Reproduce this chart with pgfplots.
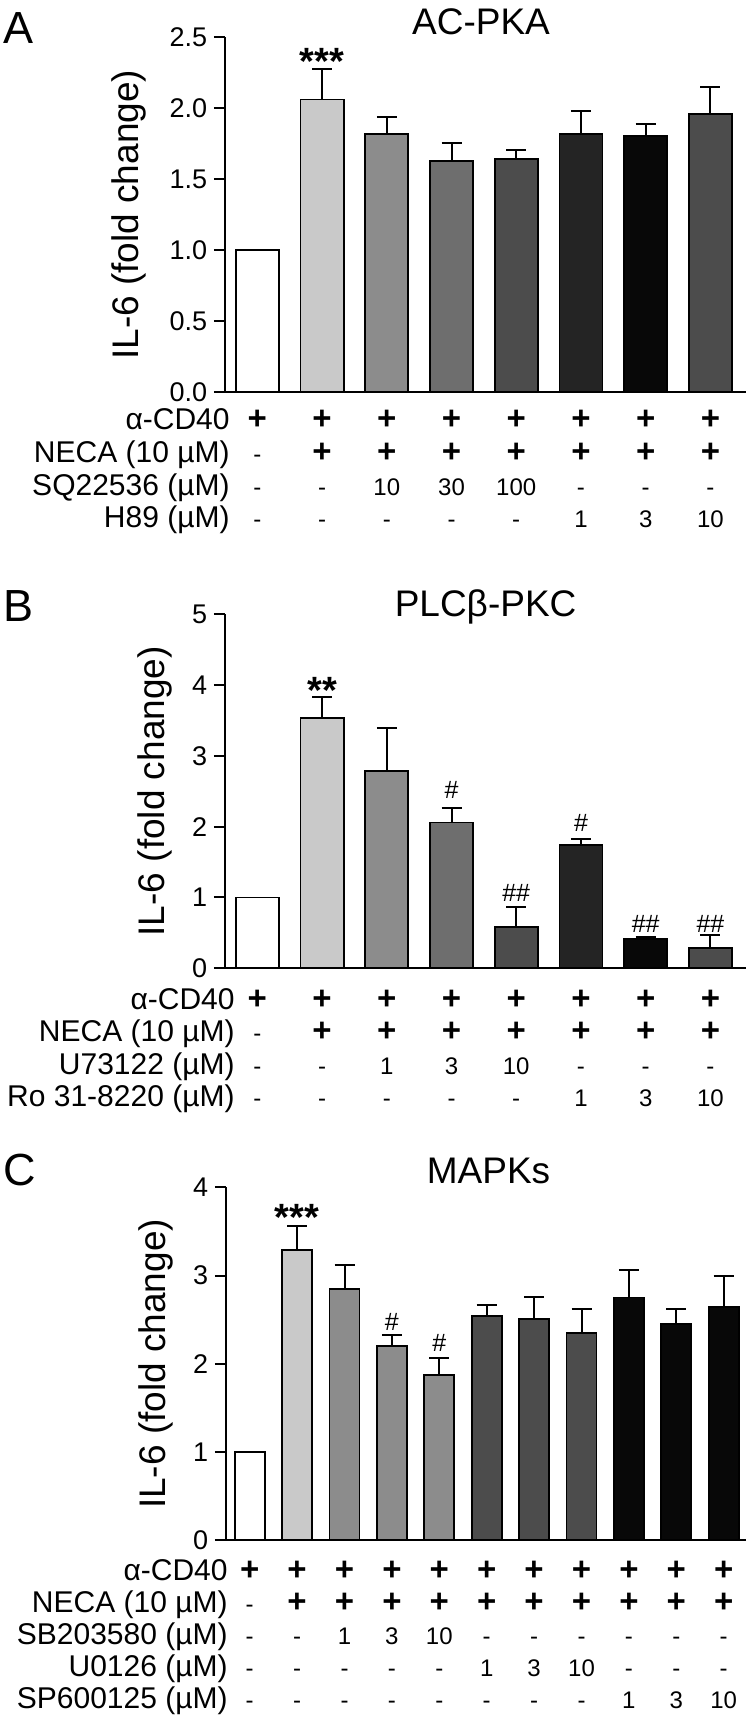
\documentclass[border=0pt]{standalone}
\usepackage{pgfplots}
\pgfplotsset{compat=1.18}
\usepackage{fontspec}
\setmainfont{Liberation Sans}

\definecolor{c1}{gray}{0.79}
\definecolor{c2}{gray}{0.55}
\definecolor{c3}{gray}{0.43}
\definecolor{c4}{gray}{0.30}
\definecolor{c5}{gray}{0.14}
\definecolor{c6}{gray}{0.03}

\newcommand{\PL}{{\fontsize{16.5bp}{16.3bp}\selectfont\bfseries +}}
\newcommand{\MI}{-}
\newcommand{\colA}[4]{\strut#1\\\strut#2\\\strut#3\\\strut#4}
\newcommand{\colC}[5]{\strut#1\\\strut#2\\\strut#3\\\strut#4\\\strut#5}

\tikzset{
  star/.style={font=\fontsize{19bp}{20bp}\selectfont\bfseries, anchor=center, yshift=-4bp},
  hash/.style={font=\fontsize{12.5bp}{14bp}\selectfont, anchor=center},
}
\pgfplotsset{
  panel/.style={
    scale only axis,
    axis lines*=left,
    axis line style={line width=1bp},
    ymin=0, clip=false,
    ybar, bar shift=0pt,
    xtick align=inside, major x tick style={draw=none},
    ytick align=outside, major tick length=5.5bp,
    major y tick style={line width=1bp, black},
    tick label style={font=\fontsize{13.5bp}{16bp}\selectfont},
    /pgf/number format/assume math mode=true,
    yticklabel style={inner sep=3.2bp},
    xticklabel style={align=center, anchor=north, inner sep=0pt},
    ylabel={IL-6 (fold change)},
    every axis y label/.style={at={(rel axis cs:0,0.5)}, xshift=-35bp, rotate=90, anchor=center,
      font=\fontsize{18.5bp}{20bp}\selectfont},
    every axis plot/.append style={draw=black, line width=0.9bp,
      error bars/y dir=plus, error bars/y explicit,
      error bars/error bar style={line width=1bp, black},
      error bars/error mark options={rotate=90, mark size=5bp, line width=1bp, black}},
  },
}

\begin{document}
\begin{tikzpicture}
\useasboundingbox (0,0) rectangle (373.5bp,859.5bp);

% ---------- A: AC-PKA ----------
\begin{axis}[panel,
  at={(112.5bp,663.35bp)}, anchor=south west,
  width=260.5bp, height=177.5bp,
  xmin=-0.5, xmax=7.55, ymax=2.5, bar width=0.665,
  ytick={0,0.5,...,2.5},
  yticklabel style={/pgf/number format/.cd, fixed, fixed zerofill, precision=1},
  every axis y label/.style={at={(rel axis cs:0,0.5)}, xshift=-48bp, rotate=90, anchor=center,
    font=\fontsize{18.5bp}{20bp}\selectfont},
  xtick={0,...,7},
  xticklabel style={font=\fontsize{12bp}{16.3bp}\selectfont, yshift=-7.2bp},
  xticklabels={{\colA{\PL}{\MI}{\MI}{\MI}},{\colA{\PL}{\PL}{\MI}{\MI}},
    {\colA{\PL}{\PL}{10}{\MI}},{\colA{\PL}{\PL}{30}{\MI}},{\colA{\PL}{\PL}{100}{\MI}},
    {\colA{\PL}{\PL}{\MI}{1}},{\colA{\PL}{\PL}{\MI}{3}},{\colA{\PL}{\PL}{\MI}{10}}},
]
\addplot[fill=white] coordinates {(0,1.0)};
\addplot[fill=c1] coordinates {(1,2.062) +- (0,0.212)};
\addplot[fill=c2] coordinates {(2,1.819) +- (0,0.118)};
\addplot[fill=c3] coordinates {(3,1.631) +- (0,0.128)};
\addplot[fill=c4] coordinates {(4,1.641) +- (0,0.064)};
\addplot[fill=c5] coordinates {(5,1.819) +- (0,0.159)};
\addplot[fill=c6] coordinates {(6,1.806) +- (0,0.081)};
\addplot[fill=c4] coordinates {(7,1.958) +- (0,0.195)};
\node[star] at (axis cs:1,2.387) {***};
\node[anchor=north east, inner sep=0pt, align=right, yshift=-7.2bp, xshift=2.5bp,
  font=\fontsize{15bp}{16.3bp}\selectfont] at (rel axis cs:0,0)
  {\strut α-CD40\\\strut NECA (10 µM)\\\strut SQ22536 (µM)\\\strut H89 (µM)};
\end{axis}

% ---------- B: PLCbeta-PKC ----------
\begin{axis}[panel,
  at={(112.5bp,375.35bp)}, anchor=south west,
  width=260.5bp, height=177bp,
  xmin=-0.5, xmax=7.55, ymax=5, bar width=0.665,
  ytick={0,1,...,5},
  xtick={0,...,7},
  xticklabel style={font=\fontsize{12bp}{16.3bp}\selectfont, yshift=-8.8bp},
  xticklabels={{\colA{\PL}{\MI}{\MI}{\MI}},{\colA{\PL}{\PL}{\MI}{\MI}},
    {\colA{\PL}{\PL}{1}{\MI}},{\colA{\PL}{\PL}{3}{\MI}},{\colA{\PL}{\PL}{10}{\MI}},
    {\colA{\PL}{\PL}{\MI}{1}},{\colA{\PL}{\PL}{\MI}{3}},{\colA{\PL}{\PL}{\MI}{10}}},
]
\addplot[fill=white] coordinates {(0,1.0)};
\addplot[fill=c1] coordinates {(1,3.534) +- (0,0.296)};
\addplot[fill=c2] coordinates {(2,2.790) +- (0,0.610)};
\addplot[fill=c3] coordinates {(3,2.060) +- (0,0.210)};
\addplot[fill=c4] coordinates {(4,0.580) +- (0,0.280)};
\addplot[fill=c5] coordinates {(5,1.747) +- (0,0.083)};
\addplot[fill=c6] coordinates {(6,0.410) +- (0,0.035)};
\addplot[fill=c4] coordinates {(7,0.284) +- (0,0.186)};
\node[star] at (axis cs:1,4.04) {**};
\node[hash] at (axis cs:3,2.52) {\#};
\node[hash] at (axis cs:4,1.07) {\#\#};
\node[hash] at (axis cs:5,2.05) {\#};
\node[hash] at (axis cs:6,0.63) {\#\#};
\node[hash] at (axis cs:7,0.63) {\#\#};
\node[anchor=north east, inner sep=0pt, align=right, yshift=-8.8bp, xshift=5bp,
  font=\fontsize{15bp}{16.3bp}\selectfont] at (rel axis cs:0,0)
  {\strut α-CD40\\\strut NECA (10 µM)\\\strut U73122 (µM)\\\strut Ro 31-8220 (µM)};
\end{axis}

% ---------- C: MAPKs ----------
\begin{axis}[panel,
  at={(113bp,89.3bp)}, anchor=south west,
  width=260bp, height=176.5bp,
  xmin=-0.5, xmax=10.47, ymax=4, bar width=0.636,
  ytick={0,1,...,4},
  xtick={0,...,10},
  xticklabel style={font=\fontsize{12bp}{16bp}\selectfont, yshift=-8.5bp},
  xticklabels={{\colC{\PL}{\MI}{\MI}{\MI}{\MI}},{\colC{\PL}{\PL}{\MI}{\MI}{\MI}},
    {\colC{\PL}{\PL}{1}{\MI}{\MI}},{\colC{\PL}{\PL}{3}{\MI}{\MI}},{\colC{\PL}{\PL}{10}{\MI}{\MI}},
    {\colC{\PL}{\PL}{\MI}{1}{\MI}},{\colC{\PL}{\PL}{\MI}{3}{\MI}},{\colC{\PL}{\PL}{\MI}{10}{\MI}},
    {\colC{\PL}{\PL}{\MI}{\MI}{1}},{\colC{\PL}{\PL}{\MI}{\MI}{3}},{\colC{\PL}{\PL}{\MI}{\MI}{10}}},
]
\addplot[fill=white] coordinates {(0,1.0)};
\addplot[fill=c1] coordinates {(1,3.295) +- (0,0.271)};
\addplot[fill=c2] coordinates {(2,2.851) +- (0,0.271)};
\addplot[fill=c2] coordinates {(3,2.200) +- (0,0.125)};
\addplot[fill=c2] coordinates {(4,1.875) +- (0,0.195)};
\addplot[fill=c4] coordinates {(5,2.547) +- (0,0.125)};
\addplot[fill=c4] coordinates {(6,2.510) +- (0,0.250)};
\addplot[fill=c4] coordinates {(7,2.347) +- (0,0.271)};
\addplot[fill=c6] coordinates {(8,2.753) +- (0,0.315)};
\addplot[fill=c6] coordinates {(9,2.455) +- (0,0.163)};
\addplot[fill=c6] coordinates {(10,2.645) +- (0,0.352)};
\node[star] at (axis cs:1,3.755) {***};
\node[hash] at (axis cs:3,2.48) {\#};
\node[hash] at (axis cs:4,2.24) {\#};
\node[anchor=north east, inner sep=0pt, align=right, yshift=-8.5bp, xshift=1bp,
  font=\fontsize{15bp}{16bp}\selectfont] at (rel axis cs:0,0)
  {\strut α-CD40\\\strut NECA (10 µM)\\\strut SB203580 (µM)\\\strut U0126 (µM)\\\strut SP600125 (µM)};
\end{axis}

% titles and panel letters
\node[anchor=base, font=\fontsize{18.5bp}{20bp}\selectfont] at (240.5bp,842.1bp) {AC-PKA};
\node[anchor=base, font=\fontsize{18.5bp}{20bp}\selectfont] at (242.8bp,551.3bp) {PLCβ-PKC};
\node[anchor=base, font=\fontsize{18.5bp}{20bp}\selectfont] at (244.25bp,267.6bp) {MAPKs};
\node[anchor=base west, inner sep=0pt, font=\fontsize{22.5bp}{24bp}\selectfont] at (1.5bp,837.7bp) {A};
\node[anchor=base west, inner sep=0pt, font=\fontsize{22.5bp}{24bp}\selectfont] at (1.5bp,548.6bp) {B};
\node[anchor=base west, inner sep=0pt, font=\fontsize{22.5bp}{24bp}\selectfont] at (1.5bp,266.75bp) {C};
\end{tikzpicture}
\end{document}
